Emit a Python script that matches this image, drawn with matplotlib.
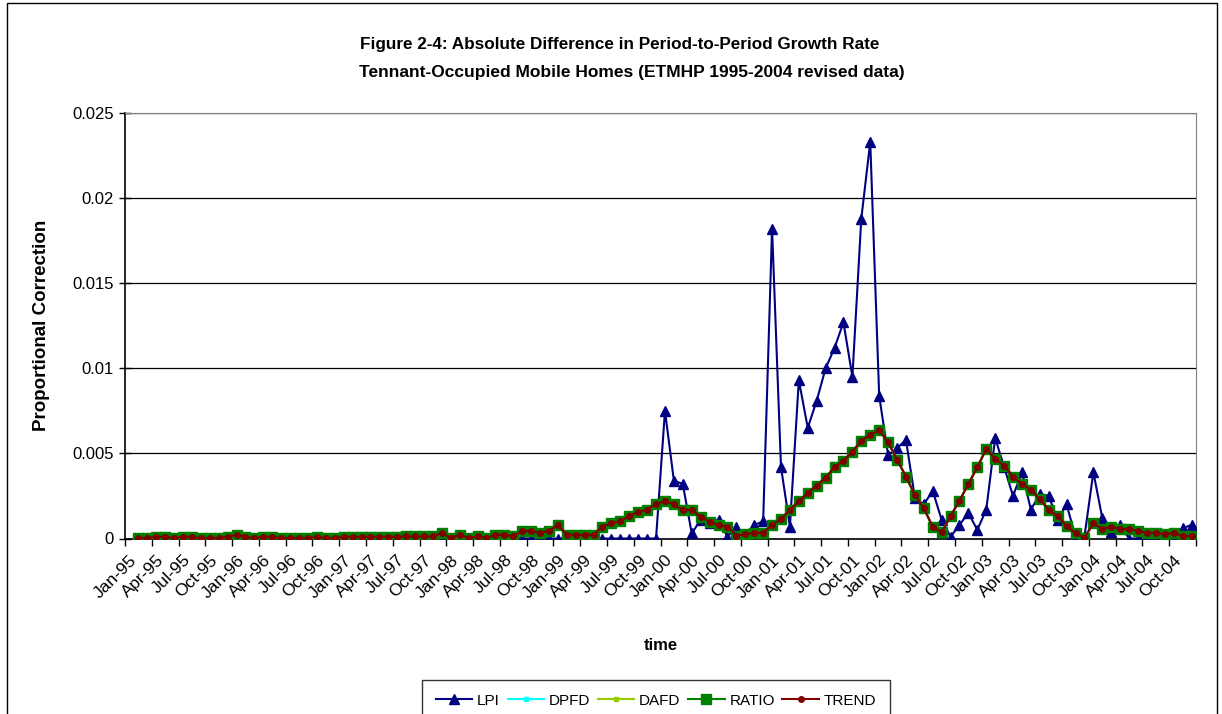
import numpy as np
import matplotlib.pyplot as plt
from matplotlib.patches import Rectangle

nan = np.nan

# tick labels every quarter, Jan-95 .. Oct-04
months = ["Jan", "Apr", "Jul", "Oct"]
years = list(range(95, 100)) + list(range(0, 5))
tick_labels = [f"{m}-{y:02d}" for y in years for m in months]

# monthly values Jan-95 .. Dec-04 (first month has no growth rate)
lpi = [
    nan, 0, 0, 0, 0, 0, 0, 0, 0, 0, 0, 0,
    0, 0, 0, 0, 0, 0, 0, 0, 0, 0, 0, 0,
    0, 0, 0, 0, 0, 0, 0, 0, 0, 0, 0, 0,
    0, 0, 0, 0, 0, 0, 0, 0, 0, 0, 0, 0,
    0, 0, 0, 0, 0, 0, 0, 0, 0, 0, 0, 0,
    0.0075, 0.0034, 0.0032, 0.0003, 0.0011, 0.0009, 0.0011, 0.0001, 0.0007, 0.0, 0.0008, 0.0010,
    0.0182, 0.0042, 0.0007, 0.0093, 0.0065, 0.0081, 0.0100, 0.0112, 0.0127, 0.0095, 0.0188, 0.0233,
    0.0084, 0.0049, 0.0053, 0.0058, 0.0024, 0.0020, 0.0028, 0.0011, 0.0001, 0.0008, 0.0015, 0.0005,
    0.0017, 0.0059, 0.0042, 0.0025, 0.0039, 0.0017, 0.0026, 0.0025, 0.0011, 0.0020, 0.0001, 0.0001,
    0.0039, 0.0012, 0.0004, 0.0008, 0.0, 0.0, 0.00005, 0.0001, 0.0001, 0.0, 0.0006, 0.0008,
]

ratio = [
    nan, 0.00002, 0.00002, 0.0001, 0.0001, 0.00002, 0.0001, 0.0001, 0.00002, 0.00002, 0.00002, 0.0001,
    0.00022, 0.0001, 0.00002, 0.0001, 0.0001, 0.00002, 0.00002, 0.00002, 0.00002, 0.0001, 0.00002, 0.00002,
    0.0001, 0.0001, 0.0001, 0.0001, 0.0001, 0.0001, 0.0001, 0.00012, 0.00012, 0.00012, 0.00012, 0.00032,
    0.00004, 0.00022, 0.00004, 0.00012, 0.00004, 0.00022, 0.00022, 0.00012, 0.00045, 0.00045, 0.00035, 0.00045,
    0.00078, 0.00022, 0.00022, 0.00022, 0.00022, 0.0007, 0.0009, 0.00102, 0.00134, 0.00156, 0.0017, 0.00201,
    0.00222, 0.00201, 0.00168, 0.00168, 0.00127, 0.00099, 0.00079, 0.00069, 0.00017, 0.00025, 0.00034, 0.00034,
    0.00079, 0.00115, 0.00168, 0.0022, 0.00266, 0.00311, 0.00358, 0.00419, 0.00456, 0.00511, 0.00574, 0.00609,
    0.00635, 0.00565, 0.00464, 0.00364, 0.00256, 0.00178, 0.00069, 0.00036, 0.00132, 0.00222, 0.00321, 0.00419,
    0.00526, 0.00468, 0.00428, 0.00364, 0.00321, 0.00285, 0.00232, 0.00168, 0.00132, 0.00074, 0.0003, 0.00005,
    0.00089, 0.00056, 0.00069, 0.00056, 0.00056, 0.00044, 0.00034, 0.00034, 0.00025, 0.00034, 0.00015, 0.00015,
]

# DPFD, DAFD and TREND sit on top of RATIO everywhere in the picture
dpfd = [
    nan, 0.00002, 0.00002, 0.0001, 0.0001, 0.00002, 0.0001, 0.0001, 0.00002, 0.00002, 0.00002, 0.0001,
    0.00022, 0.0001, 0.00002, 0.0001, 0.0001, 0.00002, 0.00002, 0.00002, 0.00002, 0.0001, 0.00002, 0.00002,
    0.0001, 0.0001, 0.0001, 0.0001, 0.0001, 0.0001, 0.0001, 0.00012, 0.00012, 0.00012, 0.00012, 0.00032,
    0.00004, 0.00022, 0.00004, 0.00012, 0.00004, 0.00022, 0.00022, 0.00012, 0.00045, 0.00045, 0.00035, 0.00045,
    0.00078, 0.00022, 0.00022, 0.00022, 0.00022, 0.0007, 0.0009, 0.00102, 0.00134, 0.00156, 0.0017, 0.00201,
    0.00222, 0.00201, 0.00168, 0.00168, 0.00127, 0.00099, 0.00079, 0.00069, 0.00017, 0.00025, 0.00034, 0.00034,
    0.00079, 0.00115, 0.00168, 0.0022, 0.00266, 0.00311, 0.00358, 0.00419, 0.00456, 0.00511, 0.00574, 0.00609,
    0.00635, 0.00565, 0.00464, 0.00364, 0.00256, 0.00178, 0.00069, 0.00036, 0.00132, 0.00222, 0.00321, 0.00419,
    0.00526, 0.00468, 0.00428, 0.00364, 0.00321, 0.00285, 0.00232, 0.00168, 0.00132, 0.00074, 0.0003, 0.00005,
    0.00089, 0.00056, 0.00069, 0.00056, 0.00056, 0.00044, 0.00034, 0.00034, 0.00025, 0.00034, 0.00015, 0.00015,
]
dafd = [
    nan, 0.00002, 0.00002, 0.0001, 0.0001, 0.00002, 0.0001, 0.0001, 0.00002, 0.00002, 0.00002, 0.0001,
    0.00022, 0.0001, 0.00002, 0.0001, 0.0001, 0.00002, 0.00002, 0.00002, 0.00002, 0.0001, 0.00002, 0.00002,
    0.0001, 0.0001, 0.0001, 0.0001, 0.0001, 0.0001, 0.0001, 0.00012, 0.00012, 0.00012, 0.00012, 0.00032,
    0.00004, 0.00022, 0.00004, 0.00012, 0.00004, 0.00022, 0.00022, 0.00012, 0.00045, 0.00045, 0.00035, 0.00045,
    0.00078, 0.00022, 0.00022, 0.00022, 0.00022, 0.0007, 0.0009, 0.00102, 0.00134, 0.00156, 0.0017, 0.00201,
    0.00222, 0.00201, 0.00168, 0.00168, 0.00127, 0.00099, 0.00079, 0.00069, 0.00017, 0.00025, 0.00034, 0.00034,
    0.00079, 0.00115, 0.00168, 0.0022, 0.00266, 0.00311, 0.00358, 0.00419, 0.00456, 0.00511, 0.00574, 0.00609,
    0.00635, 0.00565, 0.00464, 0.00364, 0.00256, 0.00178, 0.00069, 0.00036, 0.00132, 0.00222, 0.00321, 0.00419,
    0.00526, 0.00468, 0.00428, 0.00364, 0.00321, 0.00285, 0.00232, 0.00168, 0.00132, 0.00074, 0.0003, 0.00005,
    0.00089, 0.00056, 0.00069, 0.00056, 0.00056, 0.00044, 0.00034, 0.00034, 0.00025, 0.00034, 0.00015, 0.00015,
]
trend = [
    nan, 0.00002, 0.00002, 0.0001, 0.0001, 0.00002, 0.0001, 0.0001, 0.00002, 0.00002, 0.00002, 0.0001,
    0.00022, 0.0001, 0.00002, 0.0001, 0.0001, 0.00002, 0.00002, 0.00002, 0.00002, 0.0001, 0.00002, 0.00002,
    0.0001, 0.0001, 0.0001, 0.0001, 0.0001, 0.0001, 0.0001, 0.00012, 0.00012, 0.00012, 0.00012, 0.00032,
    0.00004, 0.00022, 0.00004, 0.00012, 0.00004, 0.00022, 0.00022, 0.00012, 0.00045, 0.00045, 0.00035, 0.00045,
    0.00078, 0.00022, 0.00022, 0.00022, 0.00022, 0.0007, 0.0009, 0.00102, 0.00134, 0.00156, 0.0017, 0.00201,
    0.00222, 0.00201, 0.00168, 0.00168, 0.00127, 0.00099, 0.00079, 0.00069, 0.00017, 0.00025, 0.00034, 0.00034,
    0.00079, 0.00115, 0.00168, 0.0022, 0.00266, 0.00311, 0.00358, 0.00419, 0.00456, 0.00511, 0.00574, 0.00609,
    0.00635, 0.00565, 0.00464, 0.00364, 0.00256, 0.00178, 0.00069, 0.00036, 0.00132, 0.00222, 0.00321, 0.00419,
    0.00526, 0.00468, 0.00428, 0.00364, 0.00321, 0.00285, 0.00232, 0.00168, 0.00132, 0.00074, 0.0003, 0.00005,
    0.00089, 0.00056, 0.00069, 0.00056, 0.00056, 0.00044, 0.00034, 0.00034, 0.00025, 0.00034, 0.00015, 0.00015,
]

plt.rcParams["font.family"] = ["Liberation Sans", "DejaVu Sans"]

W, H = 1222, 714
fig = plt.figure(figsize=(W / 100, H / 100), dpi=100)
ax = fig.add_axes([125 / W, 1 - 538.5 / H, (1196 - 125) / W, (538.5 - 113) / H])

x = np.arange(len(lpi))
ax.plot(x, lpi, color="#000080", lw=1.5, marker="^", ms=7.5, label="LPI", zorder=3)
ax.plot(x, dpfd, color="#00FFFF", lw=1.5, marker="s", ms=3, label="DPFD", zorder=4)
ax.plot(x, dafd, color="#99CC00", lw=1.5, marker="s", ms=3, label="DAFD", zorder=5)
ax.plot(x, ratio, color="#008000", lw=1.5, marker="s", ms=6.5, label="RATIO", zorder=6)
ax.plot(x, trend, color="#800000", lw=1.5, marker="o", ms=4, label="TREND", zorder=7)

ax.set_xlim(-0.5, len(lpi) - 0.5)
ax.set_ylim(0, 0.025)
ax.set_yticks([0, 0.005, 0.01, 0.015, 0.02, 0.025])
ax.set_yticklabels(["0", "0.005", "0.01", "0.015", "0.02", "0.025"], fontsize=12)
ax.yaxis.grid(True, color="black", lw=0.9)
ax.set_axisbelow(True)

ax.set_xticks(np.arange(0, len(lpi), 3))
ax.set_xticklabels(tick_labels, rotation=45, ha="right", rotation_mode="anchor", fontsize=12.5)
ax.set_xticks(np.arange(-0.5, len(lpi), 3), minor=True)
ax.tick_params(axis="x", which="major", length=0, pad=10)
ax.tick_params(axis="x", which="minor", length=5, direction="out", width=1)
ax.tick_params(axis="y", length=8, direction="inout", width=1, pad=4)

for side in ["top", "right"]:
    ax.spines[side].set_color("#808080")
for side in ["left", "bottom"]:
    ax.spines[side].set_color("black")
    ax.spines[side].set_linewidth(1.2)

ax.set_xlabel("time", fontsize=12, fontweight="bold", labelpad=27)
ax.set_ylabel("Proportional Correction", fontsize=13.5, fontweight="bold", labelpad=16)

fig.text(620 / W, 1 - 45 / H, "Figure 2-4: Absolute Difference in Period-to-Period Growth Rate",
         ha="center", va="center", fontsize=12.3, fontweight="bold")
fig.text(632 / W, 1 - 73 / H, "Tennant-Occupied Mobile Homes (ETMHP 1995-2004 revised data)",
         ha="center", va="center", fontsize=12.5, fontweight="bold")

leg = fig.legend(loc="upper center", bbox_to_anchor=(656 / W, 1 - 680 / H), ncol=5,
                 fontsize=11, frameon=True, fancybox=False, handlelength=2.4,
                 handletextpad=0.3, columnspacing=0.5, borderpad=0.9, borderaxespad=0)
leg.get_frame().set_edgecolor("black")
leg.get_frame().set_linewidth(1)

fig.patches.append(Rectangle((7 / W, -0.02), (1217 - 7) / W, 1 - 3 / H + 0.02,
                             transform=fig.transFigure, fill=False, edgecolor="black", lw=1))

fig.savefig("out.png", dpi=100)
